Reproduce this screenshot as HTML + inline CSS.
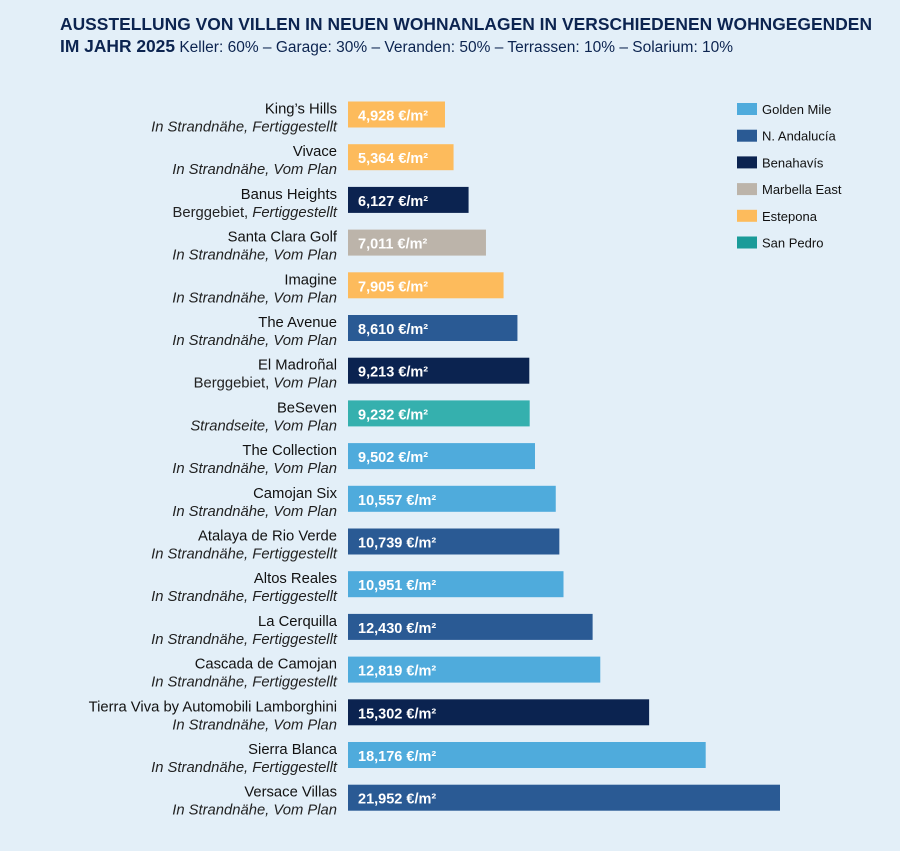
<!DOCTYPE html>
<html><head><meta charset="utf-8"><style>
body{margin:0;background:#e3eff8;font-family:"Liberation Sans",sans-serif;}
svg{display:block}
</style></head><body>
<svg id="chart" width="900" height="851" xmlns="http://www.w3.org/2000/svg">
<rect width="900" height="851" fill="#e3eff8"/>
<text x="60" y="30" font-size="17.4" font-weight="bold" fill="#0c2450" textLength="812">AUSSTELLUNG VON VILLEN IN NEUEN WOHNANLAGEN IN VERSCHIEDENEN WOHNGEGENDEN</text>
<text x="60" y="52" font-size="17.4" fill="#0c2450"><tspan font-weight="bold">IM JAHR 2025</tspan><tspan font-size="15.5"> Keller: 60% – Garage: 30% – Veranden: 50% – Terrassen: 10% – Solarium: 10%</tspan></text>
<g id="bars"></g>
<g id="legend"></g>
</svg>
<script>
const names=["King’s Hills","Vivace","Banus Heights","Santa Clara Golf","Imagine","The Avenue","El Madroñal","BeSeven","The Collection","Camojan Six","Atalaya de Rio Verde","Altos Reales","La Cerquilla","Cascada de Camojan","Tierra Viva by Automobili Lamborghini","Sierra Blanca","Versace Villas"];
const locations=["In Strandnähe","In Strandnähe","Berggebiet","In Strandnähe","In Strandnähe","In Strandnähe","Berggebiet","Strandseite","In Strandnähe","In Strandnähe","In Strandnähe","In Strandnähe","In Strandnähe","In Strandnähe","In Strandnähe","In Strandnähe","In Strandnähe"];
const statuses=["Fertiggestellt","Vom Plan","Fertiggestellt","Vom Plan","Vom Plan","Vom Plan","Vom Plan","Vom Plan","Vom Plan","Vom Plan","Fertiggestellt","Fertiggestellt","Fertiggestellt","Fertiggestellt","Vom Plan","Fertiggestellt","Vom Plan"];
const values=[4928,5364,6127,7011,7905,8610,9213,9232,9502,10557,10739,10951,12430,12819,15302,18176,21952];
const regions=["Estepona","Estepona","Benahavís","Marbella East","Estepona","N. Andalucía","Benahavís","San Pedro","Golden Mile","Golden Mile","N. Andalucía","Golden Mile","N. Andalucía","Golden Mile","Benahavís","Golden Mile","N. Andalucía"];
const legendItems=["Golden Mile","N. Andalucía","Benahavís","Marbella East","Estepona","San Pedro"];
const colors={"Golden Mile":"#4fabdc","N. Andalucía":"#2a5a94","Benahavís":"#0b2350","Marbella East":"#bcb4aa","Estepona":"#fdbb5c","San Pedro":"#35b0ae"};
const legendColors={"Golden Mile":"#4fabdc","N. Andalucía":"#2a5a94","Benahavís":"#0b2350","Marbella East":"#bcb4aa","Estepona":"#fdbb5c","San Pedro":"#1a9b99"};
const NS="http://www.w3.org/2000/svg";
const x0=348, xScale=432/21952;
const x=v=>x0+v*xScale;
const y=i=>101.5+i*42.7;
const bars=document.getElementById('bars');
function mk(t,a,p){const e=document.createElementNS(NS,t);for(const k in a)e.setAttribute(k,a[k]);p.appendChild(e);return e;}
values.forEach((v,i)=>{
  const r=mk('rect',{x:x0,y:y(i),width:x(v)-x0,height:26,fill:colors[regions[i]]},bars);
  
  
  const t=mk('text',{x:x0+10,y:y(i)+19,'font-size':14.5,'font-weight':'bold',fill:'#fff'},bars);
  t.textContent=v.toLocaleString('en-US')+' €/m²';
  
  
  const n=mk('text',{x:337,y:y(i)+12,'text-anchor':'end','font-size':14.8,fill:'#111'},bars);
  n.textContent=names[i];
  
  
  const s=mk('text',{x:337,y:y(i)+30,'text-anchor':'end','font-size':14.8,fill:'#222'},bars);
  
  
  const a=mk('tspan',{'font-style':locations[i]==='Berggebiet'?'normal':'italic'},s);a.textContent=locations[i]+', ';
  const b=mk('tspan',{'font-style':'italic'},s);b.textContent=statuses[i];
});
const lg=document.getElementById('legend');
legendItems.forEach((k,i)=>{
  const ly=103+i*26.7;
  const r=mk('rect',{x:737,y:ly,width:20,height:12,fill:legendColors[k]},lg);
  
  
  const t=mk('text',{x:762,y:ly+11,'font-size':13,fill:'#111'},lg);
  t.textContent=k;
  
  
});
</script>
</body></html>
